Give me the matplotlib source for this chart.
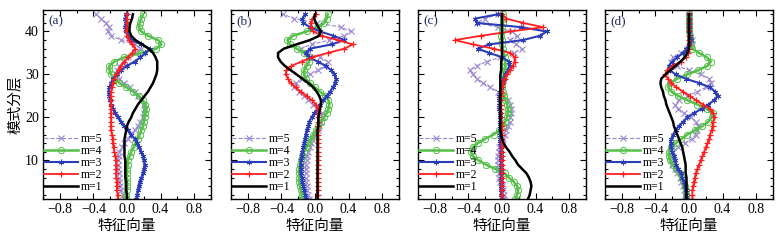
import matplotlib
matplotlib.use("Agg")
import matplotlib.pyplot as plt
import numpy as np
from matplotlib.ticker import MultipleLocator

plt.rcParams["font.family"] = ["Liberation Serif", "Noto Sans CJK SC"]
plt.rcParams["axes.unicode_minus"] = True

levels = list(range(1, 45))
modes = ["m=5", "m=4", "m=3", "m=2", "m=1"]
panels = ["(a)", "(b)", "(c)", "(d)"]
x_label = "特征向量"
y_label = "模式分层"

# panel (a)
a_m1 = [0.00, 0.00, -0.01, -0.01, -0.01, -0.02, -0.02, -0.02, -0.02, -0.02, -0.03,
        -0.03, -0.03, -0.03, -0.03, -0.02, -0.01, 0.00, 0.02, 0.05, 0.07, 0.10,
        0.13, 0.17, 0.21, 0.25, 0.28, 0.31, 0.33, 0.35, 0.36, 0.36, 0.36, 0.34,
        0.31, 0.26, 0.18, 0.10, 0.05, 0.03, 0.03, 0.04, 0.06, 0.07]
a_m2 = [-0.11, -0.11, -0.12, -0.12, -0.12, -0.13, -0.13, -0.13, -0.13, -0.13, -0.14,
        -0.15, -0.16, -0.17, -0.17, -0.18, -0.19, -0.19, -0.19, -0.19, -0.19, -0.19,
        -0.19, -0.19, -0.19, -0.19, -0.18, -0.17, -0.15, -0.13, -0.10, -0.07, -0.03,
        0.01, 0.06, 0.10, 0.06, 0.02, 0.00, -0.01, 0.00, 0.00, 0.00, 0.00]
a_m3 = [0.11, 0.12, 0.13, 0.14, 0.15, 0.17, 0.19, 0.20, 0.21, 0.20, 0.19,
        0.17, 0.14, 0.12, 0.09, 0.05, 0.01, -0.03, -0.07, -0.11, -0.14, -0.17,
        -0.19, -0.20, -0.21, -0.22, -0.21, -0.19, -0.17, -0.12, -0.07, 0.00, 0.09,
        0.16, 0.22, 0.27, 0.17, 0.05, 0.01, -0.01, -0.02, -0.01, -0.02, -0.01]
a_m4 = [-0.01, -0.01, 0.00, 0.00, 0.00, 0.00, 0.00, 0.00, 0.01, 0.01, 0.03,
        0.05, 0.08, 0.10, 0.13, 0.15, 0.17, 0.19, 0.20, 0.21, 0.22, 0.23,
        0.22, 0.19, 0.14, 0.07, -0.01, -0.09, -0.15, -0.19, -0.21, -0.21, -0.15,
        -0.03, 0.17, 0.35, 0.41, 0.37, 0.25, 0.17, 0.14, 0.15, 0.17, 0.19]
a_m5 = [-0.03, -0.05, -0.07, -0.08, -0.09, -0.10, -0.10, -0.11, -0.11, -0.11, -0.10,
        -0.09, -0.06, -0.03, 0.01, 0.05, 0.09, 0.13, 0.16, 0.19, 0.20, 0.21,
        0.20, 0.17, 0.13, 0.09, 0.03, -0.03, -0.09, -0.13, -0.12, -0.09, -0.04,
        0.01, 0.09, 0.17, 0.09, -0.07, -0.19, -0.23, -0.21, -0.25, -0.31, -0.37]

# panel (b)
b_m1 = [0.03, 0.03, 0.03, 0.03, 0.03, 0.03, 0.03, 0.03, 0.03, 0.03, 0.03,
        0.03, 0.03, 0.03, 0.03, 0.03, 0.03, 0.04, 0.04, 0.04, 0.05, 0.06,
        0.07, 0.07, 0.05, 0.02, -0.02, -0.08, -0.15, -0.22, -0.29, -0.36, -0.41,
        -0.44, -0.44, -0.37, -0.22, -0.06, 0.05, 0.07, 0.04, 0.01, -0.01, 0.00]
b_m2 = [0.03, 0.03, 0.03, 0.03, 0.03, 0.03, 0.03, 0.03, 0.04, 0.04, 0.04,
        0.04, 0.04, 0.04, 0.04, 0.04, 0.04, 0.04, 0.04, 0.04, 0.04, 0.03,
        0.01, -0.04, -0.10, -0.17, -0.23, -0.29, -0.32, -0.35, -0.34, -0.28, -0.16,
        -0.03, 0.15, 0.35, 0.45, 0.27, 0.08, -0.02, -0.05, -0.05, -0.03, 0.01]
b_m3 = [-0.11, -0.12, -0.13, -0.14, -0.15, -0.16, -0.17, -0.17, -0.17, -0.17, -0.16,
        -0.15, -0.14, -0.13, -0.12, -0.11, -0.10, -0.08, -0.07, -0.04, -0.01, 0.03,
        0.06, 0.10, 0.14, 0.18, 0.21, 0.24, 0.25, 0.23, 0.19, 0.13, 0.03,
        -0.07, -0.11, -0.06, 0.20, 0.35, 0.22, 0.06, -0.06, -0.14, -0.15, -0.12]
b_m4 = [-0.15, -0.16, -0.17, -0.18, -0.19, -0.19, -0.19, -0.19, -0.18, -0.17, -0.15,
        -0.13, -0.10, -0.08, -0.05, -0.02, 0.01, 0.04, 0.07, 0.11, 0.14, 0.16,
        0.17, 0.16, 0.12, 0.06, 0.00, -0.06, -0.11, -0.13, -0.13, -0.10, -0.07,
        -0.07, -0.13, -0.22, -0.30, -0.33, -0.26, -0.10, 0.04, 0.11, 0.14, 0.15]
b_m5 = [-0.07, -0.08, -0.09, -0.10, -0.11, -0.11, -0.11, -0.11, -0.11, -0.10, -0.09,
        -0.08, -0.06, -0.05, -0.03, 0.00, 0.03, 0.05, 0.07, 0.09, 0.08, 0.04,
        -0.02, -0.08, -0.13, -0.19, -0.25, -0.23, -0.16, -0.06, 0.04, 0.11, 0.15,
        0.06, -0.10, -0.17, -0.04, 0.17, 0.35, 0.43, 0.31, 0.02, -0.25, -0.38]

# panel (c)
c_m1 = [0.31, 0.33, 0.34, 0.35, 0.34, 0.32, 0.29, 0.24, 0.19, 0.16, 0.12,
        0.09, 0.05, 0.02, 0.00, -0.01, -0.02, -0.02, -0.02, -0.02, -0.02, -0.02,
        -0.02, -0.02, -0.02, -0.02, -0.02, -0.02, -0.02, -0.02, -0.01, -0.01, -0.01,
        0.00, 0.00, 0.00, 0.00, 0.00, 0.00, 0.00, 0.00, 0.00, 0.00, 0.00]
c_m2 = [0.00, 0.00, 0.00, 0.00, 0.00, 0.00, 0.00, 0.00, 0.00, 0.00, 0.00,
        0.00, 0.00, 0.00, 0.00, 0.00, 0.00, 0.00, -0.01, -0.01, -0.01, -0.01,
        -0.01, -0.01, -0.01, 0.00, 0.00, 0.01, 0.03, 0.06, 0.10, 0.13, 0.15,
        0.15, 0.10, -0.10, -0.35, -0.56, -0.25, 0.10, 0.49, 0.25, 0.05, 0.00]
c_m3 = [0.00, -0.01, -0.01, -0.01, -0.01, -0.01, -0.01, -0.01, -0.01, -0.01, -0.01,
        -0.01, -0.01, -0.02, -0.02, -0.02, -0.02, -0.02, -0.02, -0.02, -0.02, -0.03,
        -0.03, -0.03, -0.03, -0.02, -0.01, 0.00, 0.02, 0.04, 0.07, 0.09, 0.08,
        0.00, -0.15, -0.29, -0.15, 0.25, 0.45, 0.53, 0.23, -0.30, -0.32, -0.05]
c_m4 = [0.16, 0.18, 0.19, 0.18, 0.14, 0.08, 0.03, -0.08, -0.19, -0.28, -0.35,
        -0.37, -0.35, -0.29, -0.20, -0.10, -0.03, 0.01, 0.04, 0.06, 0.07, 0.07,
        0.06, 0.04, 0.02, 0.01, 0.00, 0.00, 0.01, 0.02, 0.03, 0.04, 0.04,
        0.03, 0.02, 0.01, 0.00, 0.00, -0.01, 0.00, 0.00, 0.01, 0.01, 0.01]
c_m5 = [0.01, 0.02, 0.01, 0.00, -0.02, -0.03, -0.04, -0.05, -0.05, -0.05, -0.05,
        -0.04, -0.03, -0.01, 0.01, 0.03, 0.05, 0.07, 0.09, 0.10, 0.11, 0.11,
        0.10, 0.07, 0.02, -0.05, -0.14, -0.23, -0.30, -0.35, -0.38, -0.30, -0.18,
        -0.02, 0.14, 0.24, 0.17, 0.09, 0.18, 0.12, -0.05, -0.30, -0.20, -0.05]

# panel (d)
d_m1 = [-0.03, -0.03, -0.03, -0.03, -0.03, -0.03, -0.04, -0.04, -0.04, -0.05, -0.06,
        -0.07, -0.08, -0.10, -0.12, -0.14, -0.16, -0.18, -0.19, -0.21, -0.23, -0.25,
        -0.27, -0.28, -0.30, -0.31, -0.33, -0.34, -0.33, -0.28, -0.22, -0.16, -0.10,
        -0.05, -0.02, 0.00, 0.00, 0.00, 0.00, 0.00, 0.00, 0.00, 0.00, 0.00]
d_m2 = [0.04, 0.04, 0.04, 0.05, 0.06, 0.07, 0.08, 0.10, 0.12, 0.14, 0.16,
        0.18, 0.20, 0.22, 0.24, 0.25, 0.27, 0.28, 0.29, 0.30, 0.29, 0.25,
        0.17, 0.08, 0.01, -0.07, -0.15, -0.21, -0.25, -0.28, -0.26, -0.19, -0.10,
        -0.04, -0.01, 0.00, 0.00, 0.00, 0.00, 0.00, 0.00, 0.00, 0.00, 0.00]
d_m3 = [-0.03, -0.04, -0.04, -0.05, -0.06, -0.08, -0.10, -0.13, -0.15, -0.17, -0.18,
        -0.20, -0.21, -0.22, -0.21, -0.19, -0.16, -0.12, -0.07, -0.02, 0.06, 0.15,
        0.23, 0.30, 0.34, 0.31, 0.25, 0.12, -0.04, -0.16, -0.23, -0.24, -0.20,
        -0.14, -0.07, -0.03, 0.00, 0.02, 0.01, 0.00, 0.00, 0.00, 0.00, 0.00]
d_m4 = [-0.03, -0.03, -0.04, -0.05, -0.06, -0.08, -0.11, -0.15, -0.19, -0.23, -0.24,
        -0.24, -0.22, -0.16, -0.09, -0.02, 0.07, 0.16, 0.23, 0.27, 0.28, 0.21,
        0.10, -0.02, -0.13, -0.21, -0.25, -0.23, -0.14, -0.02, 0.11, 0.22, 0.26,
        0.21, 0.12, 0.04, 0.02, 0.01, 0.01, 0.00, 0.00, 0.00, 0.00, 0.00]
d_m5 = [-0.04, -0.05, -0.06, -0.07, -0.09, -0.11, -0.14, -0.17, -0.20, -0.22, -0.22,
        -0.19, -0.13, -0.05, 0.03, 0.08, 0.10, 0.11, 0.08, 0.02, -0.06, -0.13,
        -0.17, -0.12, -0.02, 0.10, 0.20, 0.26, 0.24, 0.14, 0.00, -0.14, -0.22,
        -0.19, -0.10, -0.02, 0.03, 0.03, 0.01, 0.00, 0.00, 0.00, 0.00, 0.00]

panel_data = [
    [a_m5, a_m4, a_m3, a_m2, a_m1],
    [b_m5, b_m4, b_m3, b_m2, b_m1],
    [c_m5, c_m4, c_m3, c_m2, c_m1],
    [d_m5, d_m4, d_m3, d_m2, d_m1],
]

styles = [
    dict(color="#9a86d2", ls="--", lw=0.8, marker="x", ms=4, mew=0.8),
    dict(color="#55c04a", ls="-", lw=1.8, marker="o", ms=4.5, mew=0.7, mfc="none"),
    dict(color="#2a3cb8", ls="-", lw=1.5, marker=(6, 2, 0), ms=4, mew=0.7),
    dict(color="#ff1e1e", ls="-", lw=1.3, marker="+", ms=4.5, mew=0.9),
    dict(color="black", ls="-", lw=1.8, marker=None),
]

fig = plt.figure(figsize=(7.82, 2.43), dpi=100)
lefts = [43, 231, 418, 605]
for i, (left, label, series) in enumerate(zip(lefts, panels, panel_data)):
    ax = fig.add_axes([left / 782, 1 - 199 / 243, 168 / 782, 189 / 243])
    for mode, vals, st in zip(modes, series, styles):
        ax.plot(vals, levels, label=mode, **st)
    ax.set_xlim(-1, 1)
    ax.set_ylim(1, 45)
    ax.xaxis.set_minor_locator(MultipleLocator(0.2))
    ax.yaxis.set_major_locator(MultipleLocator(10))
    ax.yaxis.set_minor_locator(MultipleLocator(2))
    ax.set_xticks([-0.8, -0.4, 0.0, 0.4, 0.8])
    ax.set_xticklabels(["\u22120.8", "\u22120.4", "0.0", "0.4", "0.8"])
    ax.tick_params(which="both", direction="in", top=True, right=True,
                   labelsize=10, pad=3, width=0.8)
    ax.tick_params(which="major", length=4)
    ax.tick_params(which="minor", length=2)
    for sp in ax.spines.values():
        sp.set_linewidth(1.0)
    if i > 0:
        ax.set_yticklabels([])
    else:
        ax.set_ylabel(y_label, family="Noto Sans CJK SC", fontsize=10.5, labelpad=2)
    ax.set_xlabel(x_label, family="Noto Sans CJK SC", fontsize=10.5, labelpad=2)
    ax.text(0.03, 0.97, label, transform=ax.transAxes, ha="left", va="top",
            fontsize=9.5, color="#1e2a66")
    ax.legend(loc="lower left", bbox_to_anchor=(-0.01, 0.02), frameon=False,
              borderaxespad=0.2, borderpad=0, handlelength=2.9, handletextpad=0.25,
              labelspacing=0.0, fontsize=8.5, numpoints=1)

fig.savefig("out.png", dpi=100)
